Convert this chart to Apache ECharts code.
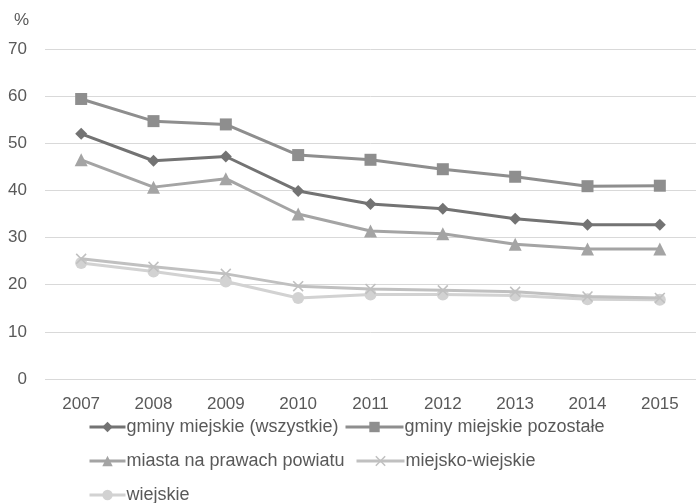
<!DOCTYPE html>
<html>
<head>
<meta charset="utf-8">
<script src="https://cdn.jsdelivr.net/npm/echarts@6/dist/echarts.min.js"></script>
<style>html,body{margin:0;padding:0;background:#fff;}#c{width:696px;height:503px;}</style>
</head>
<body>
<div id="c"></div>
<script>
const categories = ['2007','2008','2009','2010','2011','2012','2013','2014','2015'];
const gminyWszystkie = [52.0, 46.3, 47.2, 39.9, 37.1, 36.1, 34.0, 32.7, 32.7];
const gminyPozostale = [59.4, 54.7, 54.0, 47.5, 46.5, 44.5, 42.9, 40.9, 41.0];
const miastaPowiatu = [46.5, 40.7, 42.5, 35.0, 31.4, 30.8, 28.6, 27.6, 27.6];
const miejskoWiejskie = [25.5, 23.8, 22.3, 19.7, 19.1, 18.8, 18.5, 17.5, 17.2];
const wiejskie = [24.6, 22.8, 20.7, 17.2, 17.9, 17.9, 17.7, 16.9, 16.8];
const yTicks = {min: 0, max: 70, interval: 10};

const FONT = '"Liberation Sans", Arial, sans-serif';
const TXT = '#595959';
const crossPath = 'path://M0,1 L1,0 L5,4 L9,0 L10,1 L6,5 L10,9 L9,10 L5,6 L1,10 L0,9 L4,5 Z';

function ser(name, data, color, symbol, size, z) {
  return {
    name, type: 'line', data, symbol, symbolSize: size, z: z,
    lineStyle: {color, width: 3}, itemStyle: {color},
    emphasis: {disabled: true}, animation: false
  };
}
function leg(name, left, top, w) {
  return {
    data: [name], orient: 'horizontal', left: left, top: top,
    itemWidth: w, itemHeight: 13, padding: 0,
    lineStyle: {width: 3},
    textStyle: {color: TXT, fontSize: 18, fontFamily: FONT, padding: [0, 0, 0, -4]}
  };
}

const chart = echarts.init(document.getElementById('c'), null, {renderer: 'canvas'});
chart.setOption({
  animation: false,
  backgroundColor: '#fff',
  textStyle: {fontFamily: FONT},
  grid: {left: 45, right: -11, top: 49, bottom: 124, containLabel: false},
  graphic: [{type: 'text', left: 14, top: 12, style: {text: '%', fill: TXT, font: '17px ' + FONT}}],
  xAxis: {
    type: 'category', data: categories, boundaryGap: true,
    axisLine: {show: false}, axisTick: {show: false},
    axisLabel: {color: TXT, fontSize: 17, margin: 17, fontFamily: FONT}
  },
  yAxis: {
    type: 'value', min: yTicks.min, max: yTicks.max, interval: yTicks.interval,
    axisLine: {show: false}, axisTick: {show: false},
    splitLine: {lineStyle: {color: '#d9d9d9', width: 1}},
    axisLabel: {color: TXT, fontSize: 17, margin: 18, fontFamily: FONT}
  },
  legend: [
    leg('gminy miejskie (wszystkie)', 88, 418, 36),
    leg('gminy miejskie pozostałe', 344, 418, 58),
    leg('miasta na prawach powiatu', 88, 452, 36),
    leg('miejsko-wiejskie', 355, 452, 48),
    leg('wiejskie', 88, 486, 36)
  ],
  series: [
    ser('wiejskie', wiejskie, '#d2d2d2', 'circle', 12, 1),
    ser('miejsko-wiejskie', miejskoWiejskie, '#c0c0c0', crossPath, 11, 2),
    ser('miasta na prawach powiatu', miastaPowiatu, '#a4a4a4', 'triangle', 13, 3),
    ser('gminy miejskie pozostałe', gminyPozostale, '#8e8e8e', 'rect', 12, 4),
    ser('gminy miejskie (wszystkie)', gminyWszystkie, '#737373', 'diamond', 12, 5)
  ]
});
</script>
</body>
</html>
